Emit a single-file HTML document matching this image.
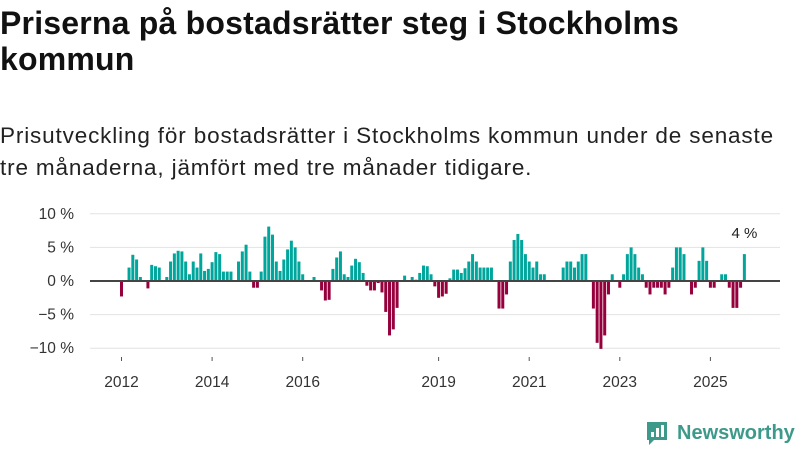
<!DOCTYPE html>
<html><head><meta charset="utf-8"><style>
body{margin:0;width:800px;height:450px;background:#fff;font-family:"Liberation Sans",sans-serif;overflow:hidden;position:relative}
h1{position:absolute;left:0;top:5px;margin:0;font-size:32px;line-height:36px;font-weight:bold;color:#111;width:720px;letter-spacing:0.2px}
p{position:absolute;left:0;top:120px;margin:0;font-size:22.5px;line-height:32px;color:#222;width:800px;letter-spacing:0.85px}
svg{position:absolute;left:0;top:0}
</style></head><body>
<h1>Priserna på bostadsrätter steg i Stockholms kommun</h1>
<p>Prisutveckling för bostadsrätter i Stockholms kommun under de senaste<br>tre månaderna, jämfört med tre månader tidigare.</p>
<svg id="c" width="800" height="450"></svg>
<script>
const startYear = 2012;
const values = [-2.3,0,2.0,3.9,3.2,0.6,0,-1.1,2.4,2.2,2.0,0,0.6,2.9,4.1,4.5,4.4,2.9,1.0,2.9,2.0,4.1,1.5,1.8,2.8,4.3,4.0,1.4,1.4,1.4,0,2.9,4.4,5.4,1.4,-1.0,-1.0,1.4,6.6,8.1,6.9,2.9,1.5,3.2,4.7,6.0,5.0,2.9,1.0,0,0,0.6,0,-1.4,-2.9,-2.8,1.8,3.5,4.4,1.0,0.6,2.3,3.3,2.8,1.2,-0.7,-1.4,-1.4,-0.3,-1.7,-4.6,-8.1,-7.2,-4.0,0,0.8,0,0.6,0.2,1.2,2.3,2.2,1.0,-0.8,-2.5,-2.3,-1.9,0.4,1.7,1.7,1.2,1.9,2.9,4.0,2.9,2.0,2.0,2.0,2.0,0,-4.1,-4.1,-2.0,2.9,6.1,7.0,6.1,4.0,2.9,2.0,2.9,1.0,1.0,0,0,0,0,2.0,2.9,2.9,2.0,2.9,4.0,4.0,0,-4.1,-9.2,-10.1,-8.1,-2.0,1.0,0,-1.0,1.0,4.0,5.0,4.0,2.0,1.0,-1.0,-2.0,-1.0,-1.0,-1.0,-2.0,-1.0,2.0,5.0,5.0,4.0,0,-2.0,-1.0,3.0,5.0,3.0,-1.0,-1.0,0,1.0,1.0,-1.0,-4.0,-4.0,-1.0,4.0];
const yTicks = [10,5,0,-5,-10];
const yTickLabels = ["10 %","5 %","0 %","−5 %","−10 %"];
const xTickYears = [2012,2014,2016,2019,2021,2023,2025];
const svg = document.getElementById('c');
const NS = 'http://www.w3.org/2000/svg';
const x0 = 121.5, pitch = 3.775;
const xScale = i => x0 + i*pitch;
const yScale = v => 281 - v*6.72;
function mk(t,a){const e=document.createElementNS(NS,t);for(const k in a)e.setAttribute(k,a[k]);svg.appendChild(e);return e;}
yTicks.forEach((t,i)=>{
  const g=mk('line',{x1:90,x2:780,y1:yScale(t),y2:yScale(t),stroke:'#e2e2e2','stroke-width':1});
  
  
  const l=mk('text',{x:74,y:yScale(t)+5,'text-anchor':'end','font-size':15.5,fill:'#333','font-family':'Liberation Sans, sans-serif'});
  l.textContent=yTickLabels[i];
  
  
});
values.forEach((v,i)=>{
  if(v===0)return;
  const y=Math.min(yScale(v),yScale(0));
  const r=mk('rect',{x:xScale(i)-1.5,y:y,width:3,height:Math.abs(yScale(v)-yScale(0)),fill:v>0?'#00a69c':'#96003c'});
  
  
});
const z=mk('line',{x1:90,x2:780,y1:yScale(0),y2:yScale(0),stroke:'#444','stroke-width':2});


xTickYears.forEach(yr=>{
  const x=xScale((yr-startYear)*12);
  const t=mk('line',{x1:x,x2:x,y1:357,y2:361,stroke:'#555','stroke-width':1});
  
  
  const l=mk('text',{x:x,y:387,'text-anchor':'middle','font-size':15.5,fill:'#333','font-family':'Liberation Sans, sans-serif'});
  l.textContent=yr;
  
  
});
const last=values.length-1;
const lab=mk('text',{x:xScale(last),y:yScale(values[last])-16,'text-anchor':'middle','font-size':15,fill:'#222','font-family':'Liberation Sans, sans-serif'});
lab.textContent=Math.round(values[last])+' %';


</script>
<div style="position:absolute;left:645px;top:420px;display:flex;align-items:center">
<svg width="24" height="26" viewBox="0 0 24 26" style="position:static"><path d="M2 2h20v18H9l-5 5v-5H2z" fill="#3d9a8b"/><rect x="6" y="12" width="3" height="5" fill="#fff"/><rect x="11" y="8" width="3" height="9" fill="#fff"/><rect x="16" y="5" width="3" height="12" fill="#fff"/></svg>
<span style="font-size:20px;font-weight:bold;color:#3d9a8b;margin-left:8px">Newsworthy</span>
</div>
</body></html>
